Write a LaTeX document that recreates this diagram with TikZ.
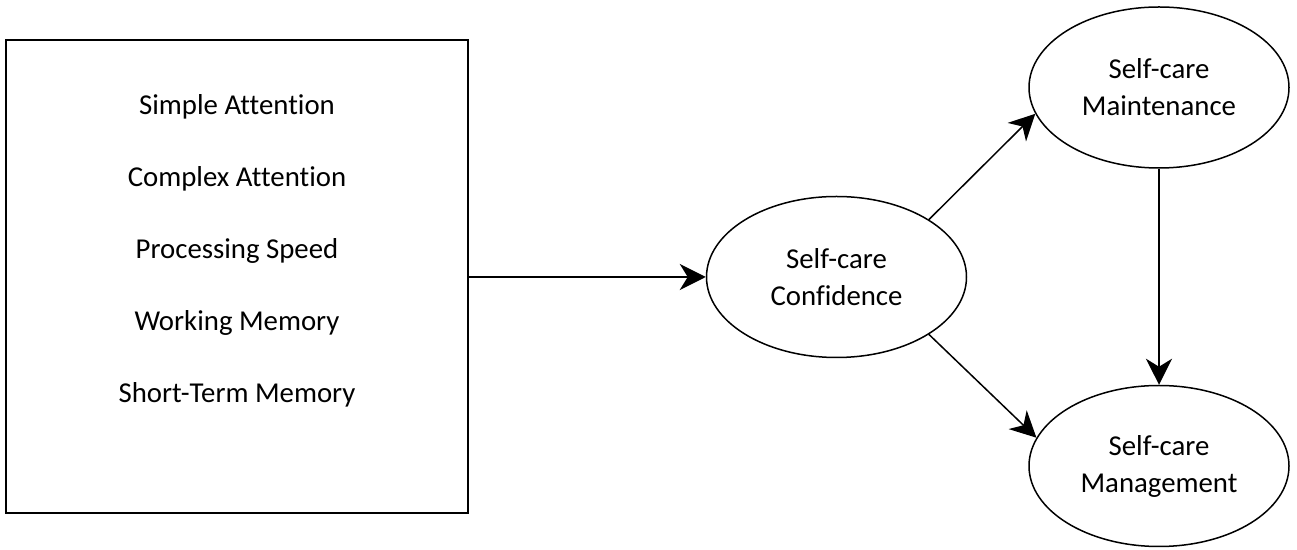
\documentclass[tikz,border=0pt]{standalone}
\usepackage{fontspec}
\setmainfont{Carlito}[Ligatures=NoCommon]
\usetikzlibrary{arrows.meta,positioning,shapes.geometric}

\begin{document}
\begin{tikzpicture}[
    x=0.5pt, y=-0.5pt,
    font=\fontsize{14.4}{18.5}\selectfont,
    node distance=22.5pt,
    cogframe/.style={draw=black, line width=1pt, minimum width=231pt, minimum height=236.5pt},
    item/.style={inner sep=0pt, text height=10pt, text depth=3pt},
    outcome/.style={ellipse, draw=black, line width=0.75pt, inner sep=0pt,
      minimum width=130pt, minimum height=80.5pt, align={center}},
    link/.style={-{Stealth[length=13pt, width=13pt, inset=4pt]}, line width=0.75pt}
  ]
  \useasboundingbox (0,0) rectangle (1297,550);

  \node[cogframe] (cogbox) at (237,277) {};
  \node[item, anchor=base] (simple) at (237,115) {Simple Attention};
  \node[item, below=of simple] (complex) {Complex Attention};
  \node[item, below=of complex] (speed) {Processing Speed};
  \node[item, below=of speed] (working) {Working Memory};
  \node[item, below=of working] (shortterm) {Short-Term Memory};

  \node[outcome] (confidence) at (836.5,277) {Self-care\\ Confidence};
  \node[outcome] (maintenance) at (1159,87.5) {Self-care\\ Maintenance};
  \node[outcome] (management) at (1159,466) {Self-care\\ Management};

  \draw[link] (cogbox.east) -- (confidence.west);
  \draw[link] (confidence.north east) -- (maintenance.192.5);
  \draw[link] (confidence.south east) -- (management.167.4);
  \draw[link] (maintenance.south) -- (management.north);
\end{tikzpicture}
\end{document}
